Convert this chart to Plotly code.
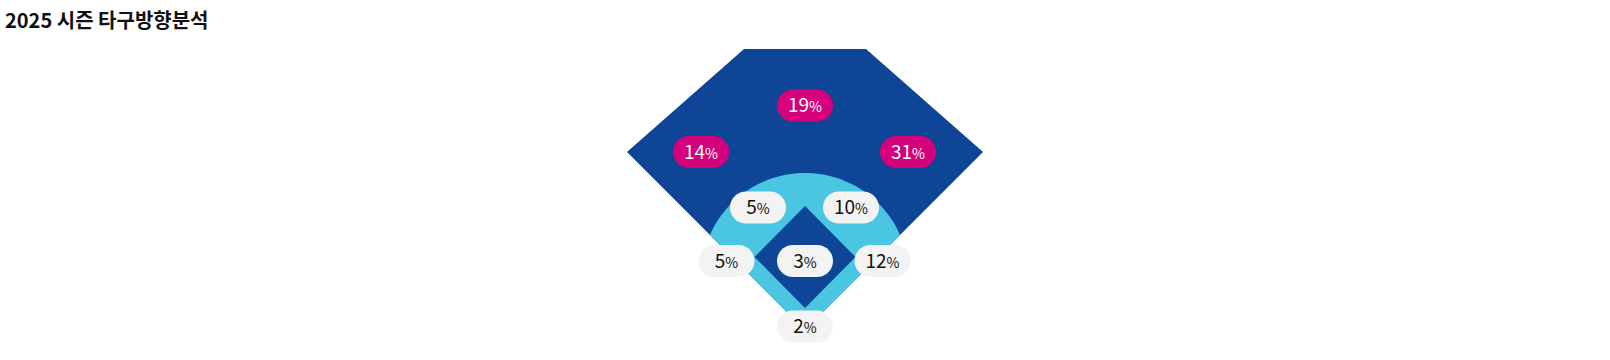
import numpy as np
import plotly.graph_objects as go

# ---- data ----
zones = ["좌측 외야", "중앙 외야", "우측 외야",
         "좌측 내야", "우측 내야",
         "3루 라인", "투수 앞", "1루 라인", "포수 앞"]
values = [14, 19, 31, 5, 10, 5, 3, 12, 2]
zone_group = ["outfield", "outfield", "outfield",
              "infield", "infield", "infield", "infield", "infield", "infield"]
title_text = "2025 시즌 타구방향분석"

# ---- layout positions (field coordinates, home plate = origin, 1 unit = 1 px) ----
label_pos = {
    "좌측 외야": (-104, 178), "중앙 외야": (0, 224.5), "우측 외야": (103, 178),
    "좌측 내야": (-47, 122.5), "우측 내야": (46, 122.5),
    "3루 라인": (-78.5, 69), "투수 앞": (0, 69), "1루 라인": (77.5, 69),
    "포수 앞": (0, 3.5),
}
TEXT_DY = -2  # nudge text down a bit inside the pill

W, H = 1610, 360
X0, Y0 = 805, 330  # home plate pixel position
DARK = "#0e4597"
LIGHT = "#4ac5e2"
PINK = "#d4007c"
GREY = "#f3f3f3"
FONT = "Noto Sans CJK KR"


def poly_path(pts):
    return "M " + " L ".join(f"{x:.2f},{y:.2f}" for x, y in pts) + " Z"


shapes = []
# outfield (dark)
outer = [(0, 0), (-178, 178), (-61, 281), (61, 281), (178, 178)]
shapes.append(dict(type="path", path=poly_path(outer), fillcolor=DARK,
                   line=dict(width=0), layer="below"))
# infield arc (light)
cy, r = 53, 104
xi = (106 + np.sqrt(106 ** 2 + 8 * (r ** 2 - cy ** 2))) / 4
a0 = np.arctan2(xi - cy, -xi)
a1 = np.arctan2(xi - cy, xi)
angs = np.linspace(a0, a1, 80)
arc = [(r * np.cos(a), cy + r * np.sin(a)) for a in angs]
shapes.append(dict(type="path", path=poly_path([(0, 0)] + arc), fillcolor=LIGHT,
                   line=dict(width=0), layer="below"))
# inner diamond (dark)
inner = [(0, 124), (-50.5, 73), (0, 22), (50.5, 73)]
shapes.append(dict(type="path", path=poly_path(inner), fillcolor=DARK,
                   line=dict(width=0), layer="below"))


def pill(cx, cyy, w=56, h=32):
    rr = h / 2
    pts = []
    t = np.linspace(-np.pi / 2, np.pi / 2, 20)
    for a in t:
        pts.append((cx + w / 2 - rr + rr * np.cos(a), cyy + rr * np.sin(a)))
    for a in t:
        pts.append((cx - w / 2 + rr - rr * np.cos(a), cyy - rr * np.sin(a)))
    return pts


xs, ys, texts, colors = [], [], [], []
for z, v, g in zip(zones, values, zone_group):
    px, py = label_pos[z]
    fill = PINK if g == "outfield" else GREY
    shapes.append(dict(type="path", path=poly_path(pill(px, py)), fillcolor=fill,
                       line=dict(width=0), layer="below"))
    xs.append(px)
    ys.append(py + TEXT_DY)
    texts.append(f"{v}<span style='font-size:14px'>%</span>")
    colors.append("#ffffff" if g == "outfield" else "#111111")

fig = go.Figure()
fig.add_trace(go.Scatter(
    x=xs, y=ys, mode="text", text=texts, textposition="middle center",
    textfont=dict(family=FONT, size=19, color=colors),
    hoverinfo="skip", showlegend=False,
))

fig.update_layout(
    width=W, height=H,
    margin=dict(l=0, r=0, t=0, b=0),
    paper_bgcolor="white", plot_bgcolor="white",
    shapes=shapes,
    xaxis=dict(range=[-X0, W - X0], visible=False, fixedrange=True),
    yaxis=dict(range=[Y0 - H, Y0], visible=False, fixedrange=True),
    title=dict(text=f"<b>{title_text}</b>", x=5 / W, xanchor="left",
               xref="paper", yref="paper", y=1 - 21 / H, yanchor="middle",
               font=dict(family=FONT, size=20, color="#111111")),
    showlegend=False,
)

fig.write_html("out.html", config={"displayModeBar": False},
               post_script="document.body.style.margin='0';document.body.style.overflow='hidden';")
